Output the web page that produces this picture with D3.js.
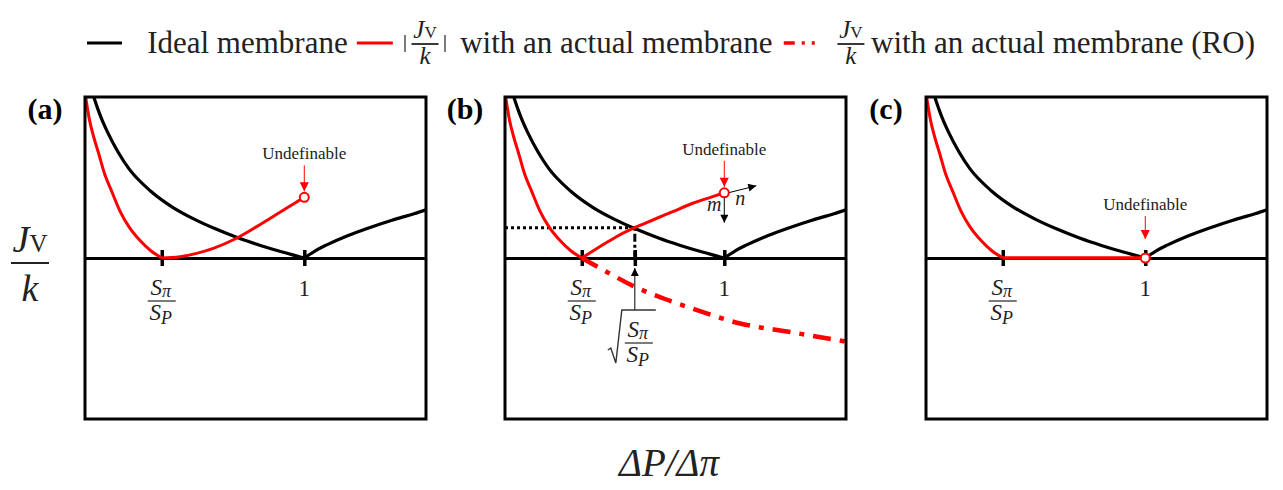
<!DOCTYPE html>
<meta charset="utf-8">
<script src="https://d3js.org/d3.v7.min.js"></script>
<style>
  body { margin: 0; background: #fff; }
  text { font-family: "Liberation Serif", "Times New Roman", serif; fill: #222; }
</style>
<div id="my_dataviz"></div>
<script>

// x = ΔP/Δπ, y = Jv/k (arbitrary units, 0 on the axis)
var sRatio = 0.35,       // Sπ/SP
    sqrtRatio = 0.592,   // sqrt(Sπ/SP)
    crossY = 0.188;      // where red and black meet in (b)

var idealLeftX  = [0.04, 0.06, 0.08, 0.1, 0.15, 0.2, 0.3, 0.4, 0.5, 0.6, 0.7, 0.8, 0.9, 1.0];
var idealLeftY  = [1.0, 0.92, 0.85, 0.79, 0.66, 0.555, 0.415, 0.315, 0.24, 0.178, 0.124, 0.078, 0.037, 0];
var idealRightX = [1.0, 1.05, 1.1, 1.2, 1.3, 1.4, 1.5, 1.555];
var idealRightY = [0, 0.045, 0.08, 0.14, 0.19, 0.235, 0.275, 0.30];

var redLeftX = [0.003, 0.02, 0.04, 0.06, 0.09, 0.12, 0.16, 0.2, 0.25, 0.3, 0.35];
var redLeftY = [1.0, 0.86, 0.75, 0.66, 0.52, 0.42, 0.29, 0.195, 0.11, 0.045, 0];

var redRiseAX = [0.35, 0.433, 0.509, 0.585, 0.684, 0.783, 0.889, 1.0];
var redRiseAY = [0, 0.008, 0.029, 0.060, 0.118, 0.195, 0.284, 0.377];

var redRiseBX = [0.35, 0.432, 0.508, 0.591, 0.674, 0.765, 0.856, 0.947, 1.0];
var redRiseBY = [0, 0.070, 0.132, 0.188, 0.236, 0.288, 0.340, 0.381, 0.405];

var roX = [0.35, 0.462, 0.591, 0.72, 0.849, 1.068, 1.3, 1.56];
var roY = [0, -0.085, -0.178, -0.25, -0.312, -0.405, -0.46, -0.52];

var flatX = [0.35, 1.0];
var flatY = [0, 0];

var panelNames = ["(a)", "(b)", "(c)"];
var undefinableAt = [[1.0, 0.377], [1.0, 0.405], [1.0, 0]];

var legendLabels = ["Ideal membrane", "with an actual membrane", "with an actual membrane (RO)"];

function pts(xs, ys) { return xs.map(function(v, i) { return [v, ys[i]]; }); }

var RED = "#ff0000";
var panelLeft = [85, 505, 926],
    panelTop = 97,
    width = 341,
    height = 322;

var svg = d3.select("#my_dataviz")
  .append("svg")
    .attr("width", 1283)
    .attr("height", 490);

var defs = svg.append("defs");
function marker(id, color, w, h) {
  defs.append("marker")
      .attr("id", id)
      .attr("viewBox", "0 0 10 10")
      .attr("refX", 10).attr("refY", 5)
      .attr("markerWidth", w).attr("markerHeight", h)
      .attr("markerUnits", "userSpaceOnUse")
      .attr("orient", "auto")
    .append("path")
      .attr("d", "M0,0L10,5L0,10Z")
      .attr("fill", color);
}
marker("arrRed", RED, 10, 9);
marker("arrBlack", "#000", 10, 8);

var x = d3.scaleLinear().domain([0, 1.555]).range([0, width]);
var y = d3.scaleLinear().domain([-1, 1]).range([height, 0]);

var line = d3.line()
    .x(function(d) { return x(d[0]); })
    .y(function(d) { return y(d[1]); })
    .curve(d3.curveMonotoneX);

// Sπ/SP as a stacked fraction
function sFraction(g, cx, top, size) {
  var num = g.append("text").attr("x", cx - 1).attr("y", top).attr("text-anchor", "middle")
      .style("font-size", size + "px");
  num.append("tspan").style("font-style", "italic").text("S");
  num.append("tspan").attr("dy", 2).style("font-size", (size * 0.78) + "px").style("font-style", "italic").text("π");
  g.append("line").attr("x1", cx - 14).attr("x2", cx + 14).attr("y1", top + 6).attr("y2", top + 6)
      .attr("stroke", "#333").attr("stroke-width", 1.3);
  var den = g.append("text").attr("x", cx - 1).attr("y", top + 25).attr("text-anchor", "middle")
      .style("font-size", size + "px");
  den.append("tspan").style("font-style", "italic").text("S");
  den.append("tspan").attr("dy", 4).style("font-size", (size * 0.78) + "px").style("font-style", "italic").text("P");
}

panelNames.forEach(function(name, i) {
  var g = svg.append("g")
      .attr("transform", "translate(" + panelLeft[i] + "," + panelTop + ")");

  g.append("clipPath").attr("id", "clip" + i)
    .append("rect").attr("width", width).attr("height", height);

  // the zero line with its ticks
  var ticks = i === 1 ? [sRatio, sqrtRatio, 1] : [sRatio, 1];
  var axis = g.append("g")
      .attr("transform", "translate(0," + y(0) + ")")
      .call(d3.axisBottom(x).tickValues(ticks).tickSizeOuter(0).tickSizeInner(8).tickFormat(""));
  axis.select(".domain").attr("stroke", "#000").attr("stroke-width", 3);
  axis.selectAll(".tick line").attr("y1", -8).attr("y2", 8).attr("stroke", "#000").attr("stroke-width", 3.5);

  var plot = g.append("g").attr("clip-path", "url(#clip" + i + ")");

  if (i === 1) {
    // dotted guides to the crossing point
    plot.append("line")
        .attr("x1", 0).attr("x2", x(sqrtRatio))
        .attr("y1", y(crossY)).attr("y2", y(crossY))
        .attr("stroke", "#000").attr("stroke-width", 3).attr("stroke-dasharray", "3,3");
    plot.append("line")
        .attr("x1", x(sqrtRatio)).attr("x2", x(sqrtRatio))
        .attr("y1", y(crossY)).attr("y2", y(0))
        .attr("stroke", "#000").attr("stroke-width", 3).attr("stroke-dasharray", "3,3,8,3");
    plot.append("path").datum(pts(roX, roY))
        .attr("d", line).attr("fill", "none")
        .attr("stroke", RED).attr("stroke-width", 4.5)
        .attr("stroke-dasharray", "18,9,5,9");
  }

  plot.append("path").datum(pts(idealLeftX, idealLeftY))
      .attr("d", line).attr("fill", "none").attr("stroke", "#000").attr("stroke-width", 3.2);
  plot.append("path").datum(pts(idealRightX, idealRightY))
      .attr("d", line).attr("fill", "none").attr("stroke", "#000").attr("stroke-width", 3.2);

  plot.append("path").datum(pts(redLeftX, redLeftY))
      .attr("d", line).attr("fill", "none").attr("stroke", RED).attr("stroke-width", 3);

  var rise = i === 0 ? pts(redRiseAX, redRiseAY) : i === 1 ? pts(redRiseBX, redRiseBY) : pts(flatX, flatY);
  plot.append("path").datum(rise)
      .attr("d", line).attr("fill", "none").attr("stroke", RED)
      .attr("stroke-width", i === 2 ? 3.5 : 3);

  // tick labels
  sFraction(g, x(sRatio), y(0) + 37, 23);
  g.append("text").attr("x", x(1)).attr("y", y(0) + 38).attr("text-anchor", "middle")
      .style("font-size", "23px").text("1");

  // "Undefinable" marker
  var u = undefinableAt[i],
      ux = x(u[0]), uy = y(u[1]);
  var tip = i === 2 ? uy - 19 : uy - 6,
      start = tip - (i === 2 ? 23 : 26);
  g.append("line")
      .attr("x1", ux).attr("x2", ux).attr("y1", start).attr("y2", tip)
      .attr("stroke", RED).attr("stroke-width", 1)
      .attr("marker-end", "url(#arrRed)");
  g.append("text").attr("x", ux).attr("y", start - 6).attr("text-anchor", "middle")
      .style("font-size", "17px").text("Undefinable");

  if (i === 1) {
    g.append("line")
        .attr("x1", ux + 4).attr("y1", uy).attr("x2", ux + 32).attr("y2", uy - 7)
        .attr("stroke", "#000").attr("stroke-width", 1).attr("marker-end", "url(#arrBlack)");
    g.append("line")
        .attr("x1", ux).attr("y1", uy + 4).attr("x2", ux).attr("y2", uy + 30)
        .attr("stroke", "#000").attr("stroke-width", 1).attr("marker-end", "url(#arrBlack)");
    g.append("text").attr("x", ux + 16).attr("y", uy + 12).attr("text-anchor", "middle")
        .style("font-size", "20px").style("font-style", "italic").text("n");
    g.append("text").attr("x", ux - 10).attr("y", uy + 18).attr("text-anchor", "middle")
        .style("font-size", "20px").style("font-style", "italic").text("m");

    // arrow up to the sqrt tick and its label
    var sx = x(sqrtRatio);
    g.append("line")
        .attr("x1", sx).attr("x2", sx).attr("y1", y(0) + 52).attr("y2", y(0) + 10)
        .attr("stroke", "#000").attr("stroke-width", 1).attr("marker-end", "url(#arrBlack)");
    g.append("path")
        .attr("d", "M" + (sx - 27) + "," + (y(0) + 92) + "l3,-2l5,15l6,-53h34")
        .attr("fill", "none").attr("stroke", "#333").attr("stroke-width", 1.4);
    sFraction(g, sx + 4, y(0) + 79, 23);
  }

  g.append("rect")
      .attr("width", width).attr("height", height)
      .attr("fill", "none").attr("stroke", "#000").attr("stroke-width", 3);

  g.append("circle").attr("cx", ux).attr("cy", uy).attr("r", 4.5)
      .attr("fill", "#fff").attr("stroke", RED).attr("stroke-width", 2);

  svg.append("text")
      .attr("x", panelLeft[i] - 40).attr("y", 119)
      .attr("text-anchor", "middle")
      .style("font-size", "30px").style("font-weight", "bold").style("fill", "#000")
      .text(name);
});

// Jv/k as a fraction
function jvk(cx, numY, barY, denY, big, small, barW) {
  var t = svg.append("text").attr("x", cx).attr("y", numY).attr("text-anchor", "middle")
      .style("font-size", big + "px");
  t.append("tspan").style("font-style", "italic").text("J");
  t.append("tspan").style("font-size", small + "px").text("V");
  svg.append("line").attr("x1", cx - barW / 2).attr("x2", cx + barW / 2)
      .attr("y1", barY).attr("y2", barY).attr("stroke", "#222").attr("stroke-width", 1.8);
  svg.append("text").attr("x", cx).attr("y", denY).attr("text-anchor", "middle")
      .style("font-size", big + "px").style("font-style", "italic").text("k");
}

// axis titles
jvk(30, 252, 263, 301, 38, 25, 38);
svg.append("text")
    .attr("x", 669).attr("y", 476).attr("text-anchor", "middle")
    .style("font-size", "39px").style("font-style", "italic")
    .text("ΔP/Δπ");

// legend, laid out left to right and spread to the reference's extent
var ly = 43, fs = 31, legStart = 87, legEnd = 1255;
var probe = svg.append("text").style("font-size", fs + "px");
var tw = legendLabels.map(function(t) { return probe.text(t).node().getComputedTextLength(); });
probe.remove();
var gaps = [24, 8, 10, 9, 10, 14, 5];
var fixed = 35 + 36 + 46 + 38 + 28;
var used = fixed + d3.sum(gaps) + d3.sum(tw);
var extra = (legEnd - legStart - used) / gaps.length;
gaps = gaps.map(function(v) { return v + extra; });

var cur = legStart;
svg.append("line").attr("x1", cur).attr("x2", cur + 35).attr("y1", ly).attr("y2", ly)
    .attr("stroke", "#000").attr("stroke-width", 3);
cur += 35 + gaps[0];
svg.append("text").attr("x", cur).attr("y", 53).style("font-size", fs + "px").text(legendLabels[0]);
cur += tw[0] + gaps[1];
svg.append("line").attr("x1", cur).attr("x2", cur + 36).attr("y1", ly).attr("y2", ly)
    .attr("stroke", RED).attr("stroke-width", 3);
cur += 36 + gaps[2];
svg.append("line").attr("x1", cur + 1).attr("x2", cur + 1).attr("y1", 35).attr("y2", 52)
    .attr("stroke", "#333").attr("stroke-width", 1.3);
jvk(cur + 21, 38, 44, 64, 25, 17, 27);
svg.append("line").attr("x1", cur + 41).attr("x2", cur + 41).attr("y1", 35).attr("y2", 52)
    .attr("stroke", "#333").attr("stroke-width", 1.3);
cur += 46 + gaps[3];
svg.append("text").attr("x", cur).attr("y", 53).style("font-size", fs + "px").text(legendLabels[1]);
cur += tw[1] + gaps[4];
svg.append("line").attr("x1", cur).attr("x2", cur + 38).attr("y1", ly).attr("y2", ly)
    .attr("stroke", RED).attr("stroke-width", 3.5).attr("stroke-dasharray", "11,7,3,7,3,30");
cur += 38 + gaps[5];
jvk(cur + 14, 38, 44, 64, 25, 17, 27);
cur += 28 + gaps[6];
svg.append("text").attr("x", cur).attr("y", 53).style("font-size", fs + "px").text(legendLabels[2]);

</script>
